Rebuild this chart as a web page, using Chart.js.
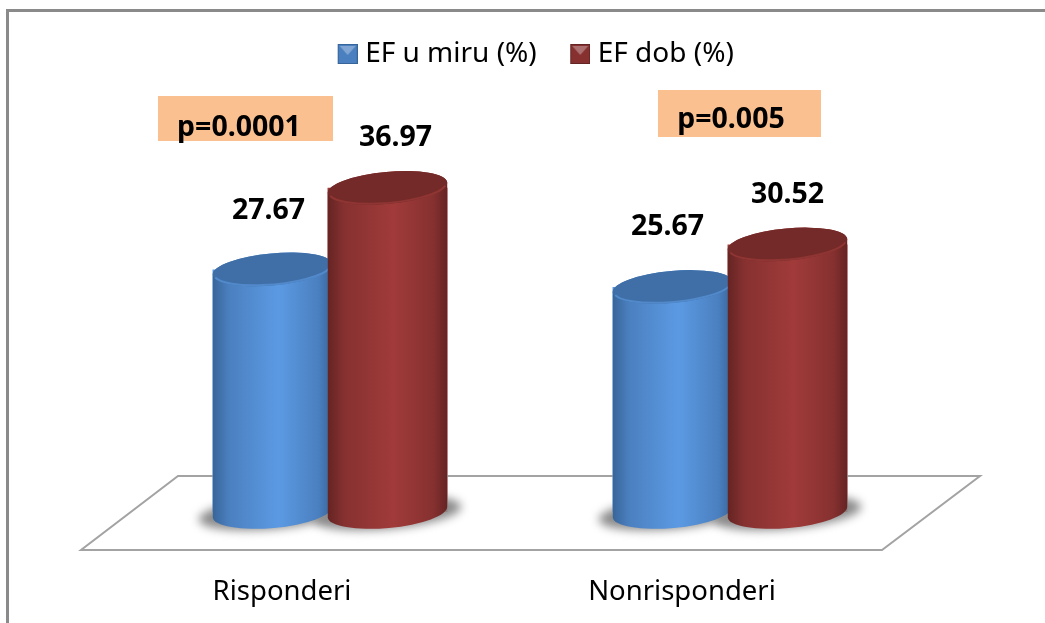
<!DOCTYPE html>
<html>
<head>
<meta charset="utf-8">
<title>EF</title>
<script src="https://cdn.jsdelivr.net/npm/chart.js@4/dist/chart.umd.min.js"></script>
<style>
  html, body { margin: 0; padding: 0; background: #fff; }
  canvas { display: block; }
</style>
</head>
<body>
<canvas id="efChart" width="1045" height="623"></canvas>
<script>
// values
const categories = ["Risponderi", "Nonrisponderi"];
const efRest = [27.67, 25.67];
const efDob = [36.97, 30.52];
const seriesNames = ["EF u miru (%)", "EF dob (%)"];
const pNotes = ["p=0.0001", "p=0.005"];

const FONT = '"Noto Sans", "Open Sans", sans-serif';

const palettes = [
  { edge: "#386599", side: "#4b80c0", mid: "#5b9ae3", top: "#3f6fa6", rim: "#5189cb" },
  { edge: "#642423", side: "#863130", mid: "#a03b3a", top: "#742a28", rim: "#8f3533" }
];

// small gradient square for the legend, padded left so it sits closer to its text
function makeSwatch(p) {
  const c = document.createElement("canvas");
  c.width = 26;
  c.height = 20;
  const g = c.getContext("2d");
  g.translate(6, 0);
  g.fillStyle = p.side;
  g.fillRect(0, 0, 20, 20);
  g.strokeStyle = p.edge;
  g.strokeRect(0.5, 0.5, 19, 19);
  g.fillStyle = "rgba(255,255,255,0.3)";
  g.beginPath();
  g.moveTo(2, 2);
  g.lineTo(18, 2);
  g.lineTo(10, 11);
  g.closePath();
  g.fill();
  return c;
}
const swatches = palettes.map(makeSwatch);

// hand placed labels in the original, so they sit a bit off the bars
const labelNudge = [[[-4, -59], [-5, -60]], [[8, -50], [0, -50]]];
const noteBoxes = [
  { x: 158, y: 96, w: 175, h: 45, tx: 239, ty: 128 },
  { x: 658, y: 90, w: 163, h: 47, tx: 731, ty: 120 }
];

const TILT = -0.09;
const MINOR = 16;

function cylinder(ctx, bar, p) {
  const rx = bar.width / 2;
  const grad = ctx.createLinearGradient(bar.x - rx, 0, bar.x + rx, 0);
  grad.addColorStop(0, p.edge);
  grad.addColorStop(0.14, p.side);
  grad.addColorStop(0.55, p.mid);
  grad.addColorStop(0.88, p.side);
  grad.addColorStop(1, p.edge);

  ctx.beginPath();
  ctx.ellipse(bar.x, bar.y, rx, MINOR, TILT, Math.PI, 0, false);
  ctx.ellipse(bar.x, bar.base, rx, MINOR, TILT, 0, Math.PI, false);
  ctx.closePath();
  ctx.fillStyle = grad;
  ctx.fill();

  ctx.beginPath();
  ctx.ellipse(bar.x, bar.y, rx, MINOR, TILT, 0, Math.PI * 2);
  ctx.fillStyle = p.top;
  ctx.fill();
  ctx.beginPath();
  ctx.ellipse(bar.x, bar.y, rx - 1, MINOR - 1, TILT, 0.2, Math.PI - 0.2);
  ctx.lineWidth = 2;
  ctx.strokeStyle = p.rim;
  ctx.stroke();
}

const cylinderPlugin = {
  id: "cylinders",
  afterLayout(chart) {
    // legend sits right of the middle in the original
    chart.legend.left += 6;
    chart.legend.right += 6;
  },
  beforeDraw(chart) {
    const ctx = chart.ctx;
    ctx.save();
    ctx.strokeStyle = "#8a8a8a";
    ctx.lineWidth = 3;
    ctx.beginPath();
    ctx.moveTo(7.5, 623);
    ctx.lineTo(7.5, 10.5);
    ctx.lineTo(1045, 10.5);
    ctx.stroke();
    ctx.restore();
  },
  afterDatasetsDraw(chart) {
    const ctx = chart.ctx;
    const xs = chart.scales.x;
    const base = chart.scales.y.getPixelForValue(0);
    ctx.save();

    // floor
    ctx.strokeStyle = "#a3a3a3";
    ctx.lineWidth = 2;
    ctx.beginPath();
    ctx.moveTo(xs.left + 48, base - 36);
    ctx.lineTo(xs.right + 50, base - 36);
    ctx.lineTo(xs.right - 48, base + 38);
    ctx.lineTo(xs.left - 49, base + 38);
    ctx.closePath();
    ctx.stroke();

    // soft shadow under the bars
    chart.data.datasets.forEach((ds, i) => {
      chart.getDatasetMeta(i).data.forEach(bar => {
        ctx.save();
        ctx.filter = "blur(5px)";
        ctx.fillStyle = "#8a8a8a";
        ctx.beginPath();
        ctx.ellipse(bar.x, bar.base + 1, bar.width / 2 + 14, MINOR, TILT, 0, Math.PI * 2);
        ctx.fill();
        ctx.restore();
      });
    });

    chart.data.datasets.forEach((ds, i) => {
      chart.getDatasetMeta(i).data.forEach(bar => cylinder(ctx, bar, palettes[i]));
    });

    // value labels
    ctx.fillStyle = "#000";
    ctx.font = "bold 28.5px " + FONT;
    ctx.textAlign = "center";
    ctx.textBaseline = "middle";
    chart.data.datasets.forEach((ds, i) => {
      chart.getDatasetMeta(i).data.forEach((bar, j) => {
        const nudge = labelNudge[i][j];
        ctx.fillText(ds.data[j].toFixed(2), bar.x + nudge[0], bar.y + nudge[1]);
      });
    });

    // p value notes
    pNotes.forEach((note, j) => {
      const b = noteBoxes[j];
      ctx.fillStyle = "#fbc08f";
      ctx.fillRect(b.x, b.y, b.w, b.h);
      ctx.fillStyle = "#000";
      ctx.fillText(note, b.tx, b.ty);
    });
    ctx.restore();
  }
};

new Chart(document.getElementById("efChart"), {
  type: "bar",
  data: {
    labels: categories,
    datasets: [
      { label: seriesNames[0], data: efRest, backgroundColor: palettes[0].mid, borderWidth: 0 },
      { label: seriesNames[1], data: efDob, backgroundColor: palettes[1].mid, borderWidth: 0 }
    ]
  },
  options: {
    responsive: false,
    animation: false,
    categoryPercentage: 0.575,
    barPercentage: 1.043,
    layout: { padding: { left: 130, right: 115, top: 6, bottom: 0 } },
    plugins: {
      tooltip: { enabled: false },
      legend: {
        position: "top",
        labels: {
          usePointStyle: true,
          pointStyleWidth: 13,
          boxWidth: 20,
          boxHeight: 20,
          padding: 34,
          color: "#000",
          font: { family: FONT, size: 28 },
          generateLabels(chart) {
            const items = Chart.defaults.plugins.legend.labels.generateLabels(chart);
            items.forEach((it, i) => { it.pointStyle = swatches[i]; });
            return items;
          }
        }
      }
    },
    scales: {
      x: {
        grid: { display: false },
        border: { display: false },
        afterFit(scale) { scale.height = 111; },
        ticks: { color: "#000", padding: 56, labelOffset: -48, font: { family: FONT, size: 27.5 } }
      },
      y: {
        display: false,
        min: 0,
        max: 49.5
      }
    }
  },
  plugins: [cylinderPlugin]
});
</script>
</body>
</html>
